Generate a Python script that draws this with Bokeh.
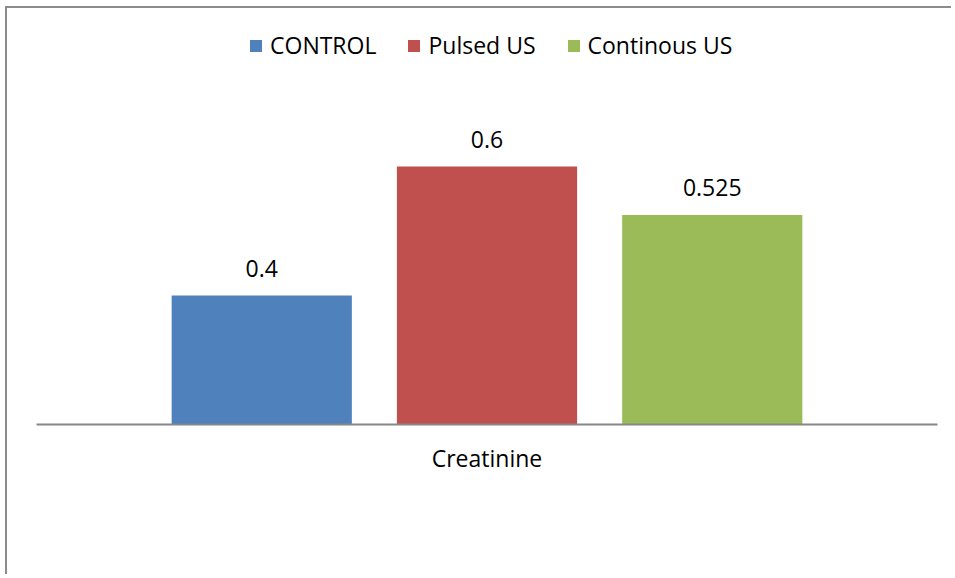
from bokeh.plotting import figure
from bokeh.models import ColumnDataSource, FactorRange, Range1d, Legend, LegendItem, LabelSet
from bokeh.core.properties import value
from bokeh.transform import dodge
from bokeh.embed import file_html
from bokeh.resources import INLINE

category = ["Creatinine"]
series = ["CONTROL", "Pulsed US", "Continous US"]
values = [0.4, 0.6, 0.525]
labels = ["0.4", "0.6", "0.525"]
colors = ["#4F81BD", "#C0504D", "#9BBB59"]
offsets = [-0.25, 0.0, 0.25]

FONT = "Open Sans"
FS = "23px"

p = figure(
    x_range=FactorRange(*category, range_padding=0),
    y_range=Range1d(0.2, 0.845),
    width=946, height=568,
    output_backend="svg", toolbar_location=None,
    min_border_left=29, min_border_right=16, min_border_top=0, min_border_bottom=152,
)
p.styles = {"border-left": "2px solid #8c8c8c", "border-top": "2px solid #8c8c8c",
            "margin-left": "5px", "margin-top": "6px"}

p.outline_line_color = None
p.xgrid.visible = False
p.ygrid.visible = False
p.yaxis.visible = False
p.xaxis.axis_line_color = "#888888"
p.xaxis.axis_line_width = 2
p.xaxis.major_tick_line_color = None
p.xaxis.minor_tick_line_color = None
p.xaxis.major_tick_in = 0
p.xaxis.major_tick_out = 0
p.xaxis.major_label_standoff = 17
p.xaxis.major_label_text_font = FONT
p.xaxis.major_label_text_font_size = FS
p.xaxis.major_label_text_color = "#000000"

items = []
for s, v, lab, c, off in zip(series, values, labels, colors, offsets):
    src = ColumnDataSource(dict(x=category, top=[v], lab=[lab]))
    r = p.vbar(x=dodge("x", off, range=p.x_range), top="top", bottom=0.2, width=0.2,
               source=src, fill_color=c, line_color=None)
    items.append(LegendItem(label=s, renderers=[r]))
    p.add_layout(LabelSet(x=dodge("x", off, range=p.x_range), y="top", text="lab", source=src,
                          text_align="center", text_baseline="alphabetic", y_offset=19,
                          text_font=value(FONT), text_font_size=value(FS), text_color="#000000"))

legend = Legend(items=items, orientation="horizontal", location=(212, 363),
                glyph_width=15, glyph_height=15, label_standoff=7, spacing=30,
                padding=0, margin=0, border_line_color=None, background_fill_alpha=0,
                label_text_font=FONT, label_text_font_size=FS, label_text_color="#000000")
p.add_layout(legend)

open("out.html", "w").write(file_html(p, INLINE))
